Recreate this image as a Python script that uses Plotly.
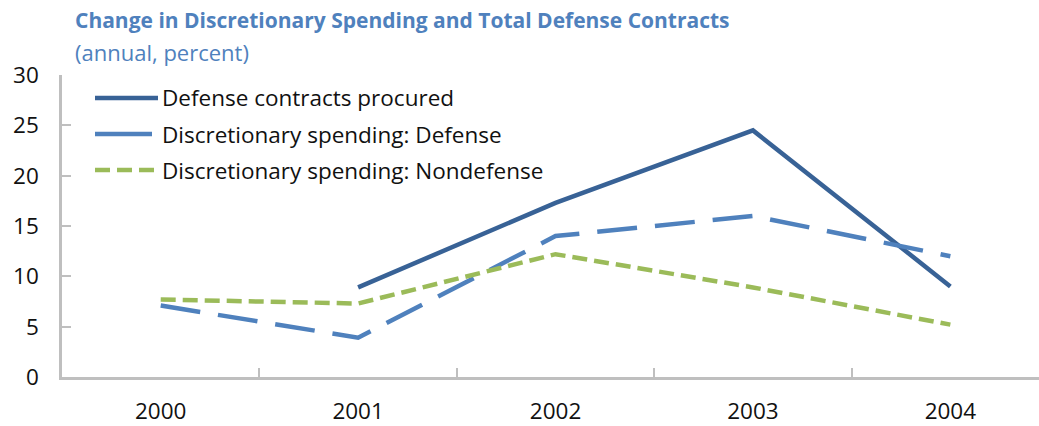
import plotly.graph_objects as go

# Fiscal years on the category axis
years = ["2000", "2001", "2002", "2003", "2004"]

# Annual percent change
defense_contracts = [None, 8.9, 17.3, 24.5, 9.0]
disc_defense = [7.1, 3.9, 14.0, 16.0, 12.0]
disc_nondefense = [7.7, 7.3, 12.2, 8.9, 5.2]

y_ticks = [0, 5, 10, 15, 20, 25, 30]

series_names = [
    "Defense contracts procured",
    "Discretionary spending: Defense",
    "Discretionary spending: Nondefense",
]

DARK_BLUE = "#386296"
MID_BLUE = "#4F81BD"
GREEN = "#9BBB59"
AXIS_GRAY = "#BFBFBF"
TITLE_BLUE = "#4F81BD"
FONT = "Open Sans"
TEXT = "#111111"

W, H = 1039, 426
ML, MR, MT, MB = 62, 0, 75, 49

fig = go.Figure()
fig.add_trace(go.Scatter(x=years, y=defense_contracts, mode="lines",
                         name=series_names[0],
                         line=dict(color=DARK_BLUE, width=4.5)))
fig.add_trace(go.Scatter(x=years, y=disc_defense, mode="lines",
                         name=series_names[1],
                         line=dict(color=MID_BLUE, width=4.5, dash="40px,18px")))
fig.add_trace(go.Scatter(x=years, y=disc_nondefense, mode="lines",
                         name=series_names[2],
                         line=dict(color=GREEN, width=4.5, dash="15px,7px")))


def px_x(px):
    return (px - ML) / (W - ML - MR)


def px_y(py):
    return (H - MB - py) / (H - MB - MT)


# Hand-drawn legend keys inside the plot area
legend_rows = [
    (98, DARK_BLUE, "solid"),
    (134, MID_BLUE, "57px,6px"),
    (170, GREEN, "15px,7px"),
]
shapes = []
annotations = []
for (row_y, color, dash), label in zip(legend_rows, series_names):
    shapes.append(dict(type="line", xref="paper", yref="paper",
                       x0=px_x(95), x1=px_x(158), y0=px_y(row_y), y1=px_y(row_y),
                       line=dict(color=color, width=4.5, dash=dash)))
    annotations.append(dict(xref="paper", yref="paper", x=px_x(160), y=px_y(row_y),
                            text=label, showarrow=False, xanchor="left", yanchor="middle",
                            font=dict(family=FONT, size=22.5, color=TEXT)))

# Title and subtitle
annotations.append(dict(xref="paper", yref="paper", x=px_x(73), y=px_y(20),
                        text="<b>Change in Discretionary Spending and Total Defense Contracts</b>",
                        showarrow=False, xanchor="left", yanchor="middle",
                        font=dict(family=FONT, size=21, color=TITLE_BLUE)))
annotations.append(dict(xref="paper", yref="paper", x=px_x(73), y=px_y(52),
                        text="(annual, percent)",
                        showarrow=False, xanchor="left", yanchor="middle",
                        font=dict(family=FONT, size=22, color=TITLE_BLUE)))

fig.update_layout(
    width=W, height=H,
    margin=dict(l=ML, r=MR, t=MT, b=MB),
    paper_bgcolor="white", plot_bgcolor="white",
    showlegend=False,
    shapes=shapes, annotations=annotations,
    font=dict(family=FONT, size=22, color=TEXT),
)
fig.update_xaxes(
    type="category", range=[-0.5, 4.449],
    showline=True, linecolor=AXIS_GRAY, linewidth=2.5,
    showgrid=False, zeroline=False,
    ticks="inside", tickson="boundaries", ticklen=9, tickwidth=2, tickcolor=AXIS_GRAY,
    tickfont=dict(family=FONT, size=22.5, color=TEXT),
    ticklabelstandoff=12,
)
fig.update_yaxes(
    range=[0, 30], tickvals=y_ticks,
    showline=True, linecolor=AXIS_GRAY, linewidth=2.5,
    showgrid=False, zeroline=False,
    ticks="inside", ticklen=9, tickwidth=2, tickcolor=AXIS_GRAY,
    tickfont=dict(family=FONT, size=22.5, color=TEXT),
    ticklabelstandoff=16,
)

fig.write_html("out.html")
